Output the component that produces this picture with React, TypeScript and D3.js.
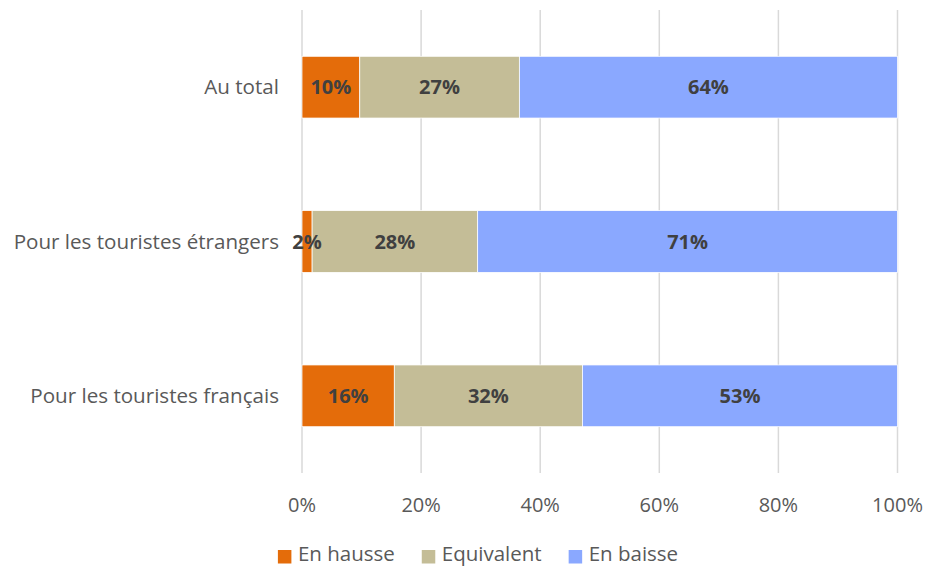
import React, { useEffect, useRef } from 'react';
import * as d3 from 'd3';

const categories = ['Au total', 'Pour les touristes étrangers', 'Pour les touristes français'];
const seriesNames = ['En hausse', 'Equivalent', 'En baisse'];
const enHausse = [9.7, 1.7, 15.5];
const equivalent = [26.8, 27.8, 31.6];
const enBaisse = [63.5, 70.5, 52.9];
const tickValues = [0, 20, 40, 60, 80, 100];
const colors = ['#E46C0A', '#C4BD97', '#8AA8FF'];

const App = () => {
    const svgRef = useRef<SVGSVGElement>(null);

    useEffect(() => {
        const width = 926;
        const height = 567;
        const font = '"Open Sans", sans-serif';

        const rows = categories.map((c, i) => ({
            category: c,
            values: [enHausse[i], equivalent[i], enBaisse[i]],
        }));

        const x = d3.scaleLinear().domain([0, 100]).range([302, 897.5]);
        const y = d3.scaleBand()
            .domain(categories)
            .range([10, 473])
            .paddingInner(0.6)
            .paddingOuter(0.3);

        const svg = d3.select(svgRef.current);
        svg.selectAll('*').remove();
        svg.attr('width', width).attr('height', height).attr('viewBox', [0, 0, width, height]);

        // gridlines
        svg.append('g')
            .selectAll('line')
            .data(tickValues)
            .join('line')
            .attr('x1', d => x(d))
            .attr('x2', d => x(d))
            .attr('y1', 10)
            .attr('y2', 473)
            .attr('stroke', '#d9d9d9')
            .attr('stroke-width', 1.5);

        // stacked segments
        const segs = rows.flatMap(r => {
            let acc = 0;
            return r.values.map((v, k) => {
                const s = { category: r.category, k, x0: acc, x1: acc + v, v };
                acc += v;
                return s;
            });
        });

        svg.append('g')
            .selectAll('rect')
            .data(segs)
            .join('rect')
            .attr('x', d => x(d.x0))
            .attr('y', d => y(d.category)!)
            .attr('width', d => x(d.x1) - x(d.x0))
            .attr('height', y.bandwidth())
            .attr('fill', d => colors[d.k])
            .attr('stroke', '#ffffff')
            .attr('stroke-width', 0.75);

        svg.append('g')
            .attr('font-family', font)
            .attr('font-weight', 'bold')
            .attr('font-size', 20)
            .attr('fill', '#404040')
            .attr('text-anchor', 'middle')
            .selectAll('text')
            .data(segs)
            .join('text')
            .attr('x', d => (x(d.x0) + x(d.x1)) / 2)
            .attr('y', d => y(d.category)! + y.bandwidth() / 2)
            .attr('dy', '0.35em')
            .text(d => `${Math.round(d.v)}%`);

        // category labels
        svg.append('g')
            .attr('font-family', font)
            .attr('font-size', 20.6)
            .attr('fill', '#595959')
            .attr('text-anchor', 'end')
            .selectAll('text')
            .data(categories)
            .join('text')
            .attr('x', 279)
            .attr('y', d => y(d)! + y.bandwidth() / 2)
            .attr('dy', '0.35em')
            .text(d => d);

        // x tick labels
        svg.append('g')
            .attr('font-family', font)
            .attr('font-size', 20)
            .attr('fill', '#595959')
            .attr('text-anchor', 'middle')
            .selectAll('text')
            .data(tickValues)
            .join('text')
            .attr('x', d => x(d))
            .attr('y', 512)
            .text(d => `${d}%`);

        // legend
        const legend = svg.append('g')
            .attr('font-family', font)
            .attr('font-size', 20.5)
            .attr('fill', '#595959');
        const items = seriesNames.map((name, i) => {
            const g = legend.append('g');
            g.append('rect')
                .attr('x', 0)
                .attr('y', 550)
                .attr('width', 13.5)
                .attr('height', 13.5)
                .attr('fill', colors[i]);
            const t = g.append('text')
                .attr('x', 20)
                .attr('y', 561)
                .text(name);
            const w = 20 + (t.node() as SVGTextElement).getComputedTextLength();
            return { g, w };
        });
        const gap = 27;
        const total = d3.sum(items, d => d.w) + gap * (items.length - 1);
        let lx = 478 - total / 2;
        items.forEach(it => {
            it.g.attr('transform', `translate(${lx},0)`);
            lx += it.w + gap;
        });
    }, []);

    return (
        <svg
            ref={svgRef}
            style={{ position: 'absolute', left: 0, top: 0, display: 'block' }}
        ></svg>
    );
};

export default App;
